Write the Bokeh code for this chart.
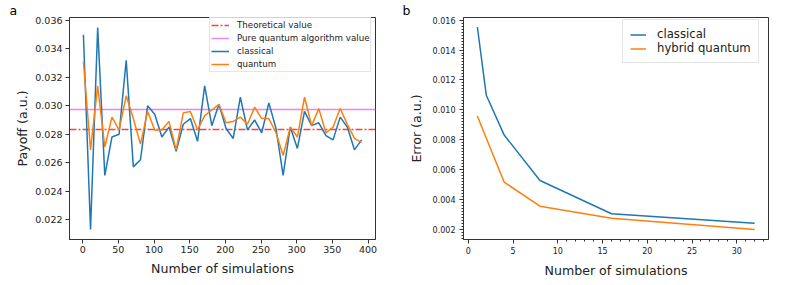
from bokeh.plotting import figure
from bokeh.layouts import row
from bokeh.models import (FixedTicker, PrintfTickFormatter, Legend, LegendItem,
                          Title, Range1d)
from bokeh.embed import file_html
from bokeh.resources import INLINE

# ---------------- data: panel a ----------------
simulations = [1, 11, 21, 31, 41, 51, 61, 71, 81, 91,
               101, 111, 121, 131, 141, 151, 161, 171, 181, 191,
               201, 211, 221, 231, 241, 251, 261, 271, 281, 291,
               301, 311, 321, 331, 341, 351, 361, 371, 381, 391]
payoff_classical = [0.0350, 0.0213, 0.0355, 0.0251, 0.0278, 0.0280, 0.0332, 0.0257, 0.0262, 0.0300,
                    0.0294, 0.0278, 0.0285, 0.0268, 0.0287, 0.0291, 0.0275, 0.0314, 0.0286, 0.0301,
                    0.0284, 0.0277, 0.0306, 0.0283, 0.0290, 0.0281, 0.0302, 0.0284, 0.0251, 0.0285,
                    0.0270, 0.0296, 0.0286, 0.0288, 0.0279, 0.0276, 0.0292, 0.0285, 0.0269, 0.0276]
payoff_quantum = [0.0331, 0.0269, 0.0314, 0.0271, 0.0292, 0.0283, 0.0307, 0.0291, 0.0273, 0.0296,
                  0.0283, 0.0283, 0.0289, 0.0269, 0.0295, 0.0296, 0.0283, 0.0293, 0.0297, 0.0301,
                  0.0288, 0.0289, 0.0292, 0.0287, 0.0299, 0.0291, 0.0291, 0.0281, 0.0265, 0.0285,
                  0.0278, 0.0306, 0.0286, 0.0298, 0.0281, 0.0285, 0.0298, 0.0287, 0.0277, 0.0274]
theoretical_value = [0.02834]
pure_quantum_value = [0.02972]
a_xticks = [0, 50, 100, 150, 200, 250, 300, 350, 400]
a_yticks = [0.022, 0.024, 0.026, 0.028, 0.030, 0.032, 0.034, 0.036]

# ---------------- data: panel b ----------------
error_sims = [1, 2, 4, 8, 16, 32]
error_classical = [0.01554, 0.01097, 0.00831, 0.00527, 0.00305, 0.00241]
error_hybrid = [0.00958, 0.0081, 0.00516, 0.00355, 0.00274, 0.00200]
b_xticks = [0, 5, 10, 15, 20, 25, 30]
b_yticks = [0.002, 0.004, 0.006, 0.008, 0.010, 0.012, 0.014, 0.016]

BLUE = "#1f77b4"
ORANGE = "#ff7f0e"
FONT = "DejaVu Sans"
TXT = "#222222"
DASHDOT = "7 2 2 2"


def style(p, tick_size, label_size):
    p.grid.visible = False
    p.outline_line_color = "#333333"
    p.outline_line_width = 1
    p.background_fill_color = "white"
    p.border_fill_color = "white"
    for ax in (p.xaxis[0], p.yaxis[0]):
        ax.axis_line_color = "#333333"
        ax.major_tick_line_color = "#333333"
        ax.minor_tick_line_color = "#333333"
        ax.major_tick_in = 0
        ax.major_tick_out = 4
        ax.minor_tick_in = 0
        ax.minor_tick_out = 2
        ax.major_label_text_font = FONT
        ax.major_label_text_font_size = tick_size
        ax.major_label_text_color = TXT
        ax.axis_label_text_font = FONT
        ax.axis_label_text_font_size = label_size
        ax.axis_label_text_font_style = "normal"
        ax.axis_label_text_color = TXT


def panel_letter(p, letter, offset):
    p.add_layout(Title(text=letter, align="left", offset=offset, standoff=0,
                       text_font=FONT, text_font_size="12.5px", text_font_style="normal",
                       text_color="black", text_line_height=0.7), "above")


# ---------------- panel a ----------------
pa = figure(width=398, height=280, output_backend="svg", toolbar_location=None,
            x_range=Range1d(-18.5, 410.5), y_range=Range1d(0.02059, 0.03621),
            min_border_left=69, min_border_right=23, min_border_top=12, min_border_bottom=41)
style(pa, "9.5px", "12.6px")
pa.xaxis.ticker = FixedTicker(ticks=a_xticks)
pa.yaxis.ticker = FixedTicker(ticks=a_yticks)
pa.yaxis.formatter = PrintfTickFormatter(format="%.3f")
pa.xaxis.axis_label = "Number of simulations"
pa.yaxis.axis_label = "Payoff (a.u.)"
pa.xaxis.major_label_standoff = 2
pa.xaxis.axis_label_standoff = 5
pa.yaxis.major_label_standoff = 3
pa.yaxis.axis_label_standoff = 2

r_theo = pa.hspan(y=theoretical_value, line_color="red", line_alpha=0.75,
                  line_width=1.4, line_dash=DASHDOT)
r_pure = pa.hspan(y=pure_quantum_value, line_color="violet", line_width=1.4)
r_cl = pa.line(simulations, payoff_classical, line_color=BLUE, line_width=1.5)
r_qu = pa.line(simulations, payoff_quantum, line_color=ORANGE, line_width=1.5)

leg_a = Legend(items=[LegendItem(label="Theoretical value", renderers=[r_theo]),
                      LegendItem(label="Pure quantum algorithm value", renderers=[r_pure]),
                      LegendItem(label="classical", renderers=[r_cl]),
                      LegendItem(label="quantum", renderers=[r_qu])],
               location=(140, 167), margin=0, padding=1, spacing=1,
               glyph_width=18, glyph_height=12, label_height=12, label_standoff=8,
               label_text_font=FONT, label_text_font_size="8.7px", label_text_color=TXT,
               border_line_color="#cccccc", background_fill_alpha=0.8)
pa.add_layout(leg_a)
panel_letter(pa, "a", -60)

# ---------------- panel b ----------------
pb = figure(width=380, height=280, output_backend="svg", toolbar_location=None,
            x_range=Range1d(-0.55, 33.55), y_range=Range1d(0.001325, 0.016175),
            min_border_left=65, min_border_right=10, min_border_top=13, min_border_bottom=40)
style(pb, "8px", "12.6px")
x_minor = [v for v in range(11, 34) if v % 5 != 0]
y_minor = [round(0.0014 + 0.0002 * i, 5) for i in range(75)]
pb.xaxis.ticker = FixedTicker(ticks=b_xticks, minor_ticks=x_minor)
pb.yaxis.ticker = FixedTicker(ticks=b_yticks, minor_ticks=y_minor)
pb.yaxis.formatter = PrintfTickFormatter(format="%.3f")
pb.xaxis.axis_label = "Number of simulations"
pb.yaxis.axis_label = "Error (a.u.)"
pb.xaxis.major_label_standoff = 3
pb.xaxis.axis_label_standoff = 6
pb.yaxis.major_label_standoff = 4
pb.yaxis.axis_label_standoff = 6

rb_cl = pb.line(error_sims, error_classical, line_color=BLUE, line_width=1.5)
rb_hy = pb.line(error_sims, error_hybrid, line_color=ORANGE, line_width=1.5)
leg_b = Legend(items=[LegendItem(label="classical", renderers=[rb_cl]),
                      LegendItem(label="hybrid quantum", renderers=[rb_hy])],
               location=(159, 176), margin=0, padding=7, spacing=0,
               glyph_width=16, glyph_height=13, label_height=13, label_standoff=11,
               label_text_font=FONT, label_text_font_size="11.7px", label_text_color=TXT,
               border_line_color="#cccccc", background_fill_alpha=0.8)
pb.add_layout(leg_b)
panel_letter(pb, "b", -61)

layout = row(pa, pb)
open("out.html", "w").write(file_html(layout, INLINE))
